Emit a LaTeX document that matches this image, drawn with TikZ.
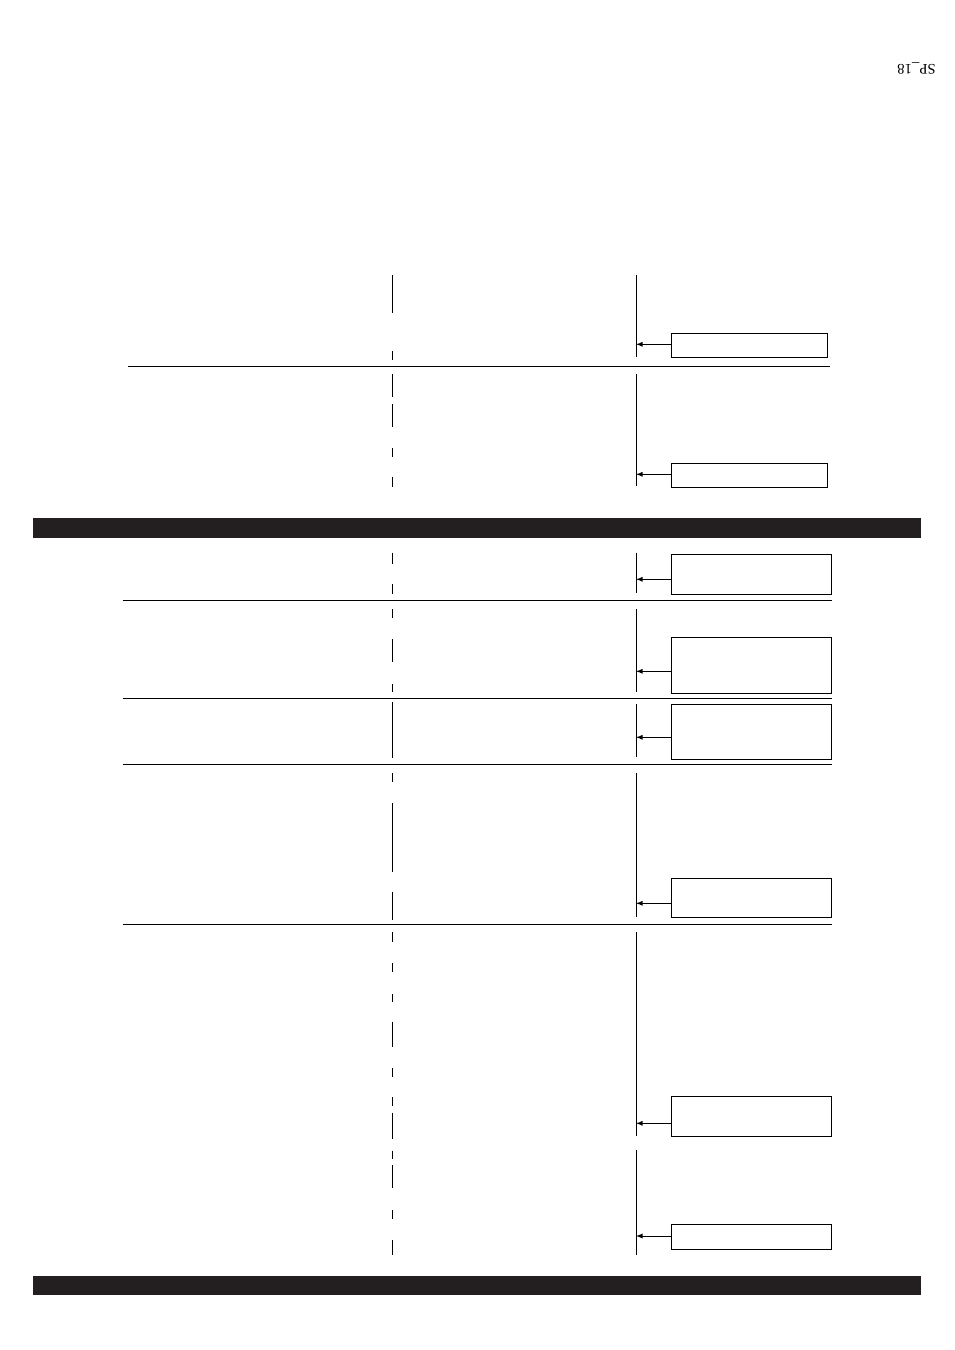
\documentclass[tikz,border=0pt]{standalone}
\usepackage{fontspec}
\setmainfont{Liberation Serif}
\usetikzlibrary{fit}

\definecolor{barblack}{HTML}{231F20}

\tikzset{
	infobox/.style = {draw, inner sep = 0pt, fit = {#1}},
	rule/.style = {line width = 0.7pt}
}

\begin{document}
\begin{tikzpicture}[> = latex, x = 0.75pt, y = -0.75pt, line width = 0.75pt]

	% Definitions
	
	\def\xL{392.3}		% Left column
	\def\xR{636}		% Right column
	\def\xB{671.3}		% Left edge of the boxes
	
	\useasboundingbox (0, 0) rectangle (954, 1350);
	
	% Page label
	
	\node [rotate = 180, inner sep = 0pt, font = \fontsize{11}{13}\selectfont] (label) at (916.5, 68.5) {SP\_18};
	
	% Black bars
	
	\fill [barblack] (33, 518) rectangle (921, 537.5);
	\fill [barblack] (33, 1275.7) rectangle (921, 1294.7);
	
	% Separating rules
	
	\draw [rule] (128, 366.7) -- (829.5, 366.7);
	\foreach \y in {600.3, 698.3, 764.3, 924.3}
		\draw [rule] (122.7, \y) -- (831.5, \y);
	
	% Left column segments
	
	\foreach \a/\b in {275/313, 351/360, 374.3/396.7, 404/426.7, 448.3/456.7, 476.7/486.7,
		552.7/564.3, 584.3/594.3, 609/618.3, 639/661.7, 684/691.7, 702.3/758.3,
		773.3/782.3, 803.3/871.7, 891.7/920, 932/941.7, 963.3/971.7, 994/1001.7,
		1021.7/1046.7, 1068.3/1076.7, 1097.3/1105.7, 1112.7/1139.3, 1150.7/1159,
		1165/1188.3, 1210/1219.3, 1240/1255}
		\draw (\xL, \a) -- (\xL, \b);
	
	% Right column lines
	
	\foreach \a/\b in {275/357, 374.3/486, 552.7/593.3, 609/691.7, 704/757.3,
		773.3/916.7, 932/1136, 1150/1255}
		\draw (\xR, \a) -- (\xR, \b);
	
	% Boxes and arrows
	
	\foreach \n/\xa/\ya/\yb/\yt in {1/827.3/333/357.7/344.3, 2/827.3/463/487.7/474.3,
		3/831.7/554.3/594.3/579.3, 4/831.7/637.3/693.3/671.3,
		5/831.7/704.3/759.3/737.3, 6/831.7/878/917/903.3,
		7/831.7/1096/1136.7/1123.3, 8/831.7/1224/1249.3/1236}
	{
		\node [infobox = {(\xB, \ya) (\xa, \yb)}] (box\n) {};
		\coordinate (tip\n) at (\xR, \yt);
		\draw [->] (box\n.west |- tip\n) -- (tip\n);
	}

\end{tikzpicture}
\end{document}
